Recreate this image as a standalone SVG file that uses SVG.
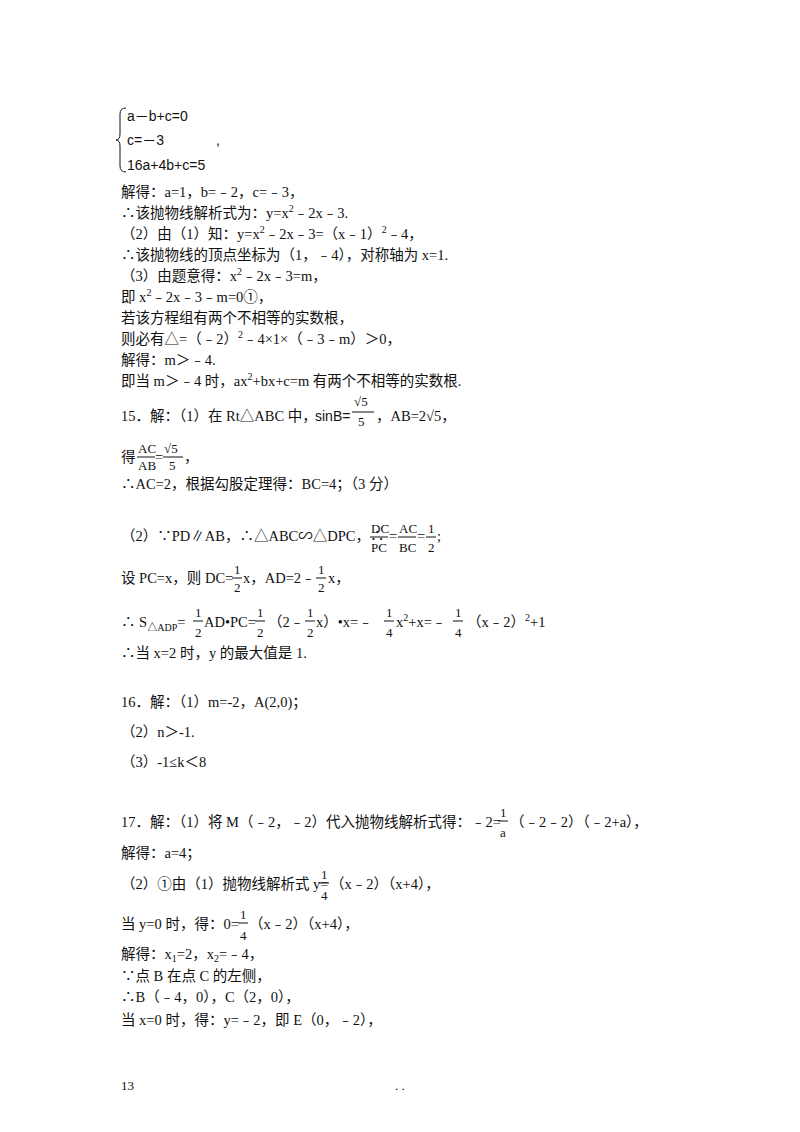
<svg xmlns="http://www.w3.org/2000/svg" width="800" height="1132" viewBox="0 0 800 1132">
<style>
text{font-family:"Liberation Serif","Noto Sans CJK SC",serif;font-size:14.5px;fill:#111}
.s{font-family:"Liberation Sans","Noto Sans CJK SC",sans-serif;font-size:14px}
.f{font-size:13px}
.sup{font-size:10px}
line{stroke:#111;stroke-width:1}
</style>
<rect width="800" height="1132" fill="#fff"/>
<g id="system">
<path d="M126 108 Q120 108 120 114 L120 134 Q120 140 116 140 Q120 140 120 146 L120 166 Q120 172 126 172" fill="none" stroke="#111"/>
<text class="s" x="127" y="121">a－b+c=0</text>
<text class="s" x="127" y="145">c=－3</text>
<text class="s" x="216" y="145">,</text>
<text class="s" x="127" y="170">16a+4b+c=5</text>
</g>
<g id="q14">
<text x="121" y="197">解得：a=1，b=﹣2，c=﹣3，</text>
<text x="121" y="218">∴该抛物线解析式为：y=x<tspan class="sup" dy="-6">2</tspan><tspan dy="6">﹣2x﹣3.</tspan></text>
<text x="121" y="239">（2）由（1）知：y=x<tspan class="sup" dy="-6">2</tspan><tspan dy="6">﹣2x﹣3=（x﹣1）</tspan><tspan class="sup" dy="-6">2</tspan><tspan dy="6">﹣4，</tspan></text>
<text x="121" y="260">∴该抛物线的顶点坐标为（1，﹣4），对称轴为 x=1.</text>
<text x="121" y="281">（3）由题意得：x<tspan class="sup" dy="-6">2</tspan><tspan dy="6">﹣2x﹣3=m，</tspan></text>
<text x="121" y="302">即 x<tspan class="sup" dy="-6">2</tspan><tspan dy="6">﹣2x﹣3﹣m=0①，</tspan></text>
<text x="121" y="323">若该方程组有两个不相等的实数根，</text>
<text x="121" y="344">则必有△=（﹣2）<tspan class="sup" dy="-6">2</tspan><tspan dy="6">﹣4×1×（﹣3﹣m）＞0，</tspan></text>
<text x="121" y="365">解得：m＞﹣4.</text>
<text x="121" y="386">即当 m＞﹣4 时，ax<tspan class="sup" dy="-6">2</tspan><tspan dy="6">+bx+c=m 有两个不相等的实数根.</tspan></text>
</g>
<g id="q15">
<text x="121" y="421">15．解：（1）在 Rt△ABC 中，</text>
<text class="s" x="315" y="421">sinB=</text>
<text class="f" x="354" y="406">√5</text><line x1="352" y1="412" x2="374" y2="412"/><text class="f" x="358" y="426">5</text>
<text x="376" y="421">，AB=2√5，</text>
<text x="121" y="462">得</text>
<text class="f" x="138" y="453">AC</text><line x1="137" y1="457" x2="155" y2="457"/><text class="f" x="138" y="470">AB</text>
<text x="155" y="462">=</text>
<text class="f" x="164" y="453">√5</text><line x1="163" y1="457" x2="183" y2="457"/><text class="f" x="169" y="470">5</text>
<text x="184" y="462">，</text>
<text x="121" y="489">∴AC=2，根据勾股定理得：BC=4；（3 分）</text>
<text x="121" y="541">（2）∵PD∥AB，∴△ABC∽△DPC，∴</text>
<text class="f" x="371" y="533">DC</text><line x1="370" y1="537" x2="388" y2="537"/><text class="f" x="371" y="552">PC</text>
<text x="389" y="541">=</text>
<text class="f" x="399" y="533">AC</text><line x1="398" y1="537" x2="416" y2="537"/><text class="f" x="399" y="552">BC</text>
<text x="417" y="541">=</text>
<text class="f" x="428" y="533">1</text><line x1="426" y1="537" x2="436" y2="537"/><text class="f" x="428" y="552">2</text>
<text x="437" y="541">;</text>
<text x="121" y="583">设 PC=x，则 DC=</text>
<text class="f" x="234" y="574">1</text><line x1="232" y1="578" x2="242" y2="578"/><text class="f" x="234" y="592">2</text>
<text x="243" y="583">x，AD=2﹣</text>
<text class="f" x="318" y="574">1</text><line x1="316" y1="578" x2="326" y2="578"/><text class="f" x="318" y="592">2</text>
<text x="328" y="583">x，</text>
<text x="121" y="627">∴ S<tspan class="sup" dy="4">△ADP</tspan><tspan dy="-4">=</tspan></text>
<text class="f" x="195" y="617">1</text><line x1="193" y1="621" x2="203" y2="621"/><text class="f" x="195" y="637">2</text>
<text x="204" y="627">AD•PC=</text>
<text class="f" x="257" y="617">1</text><line x1="255" y1="621" x2="265" y2="621"/><text class="f" x="257" y="637">2</text>
<text x="268" y="627">（2﹣</text>
<text class="f" x="307" y="617">1</text><line x1="305" y1="621" x2="315" y2="621"/><text class="f" x="307" y="637">2</text>
<text x="316" y="627">x）•x=﹣</text>
<text class="f" x="386" y="617">1</text><line x1="384" y1="621" x2="394" y2="621"/><text class="f" x="386" y="637">4</text>
<text x="396" y="627">x<tspan class="sup" dy="-6">2</tspan><tspan dy="6">+x=﹣</tspan></text>
<text class="f" x="455" y="617">1</text><line x1="453" y1="621" x2="463" y2="621"/><text class="f" x="455" y="637">4</text>
<text x="467" y="627">（x﹣2）<tspan class="sup" dy="-6">2</tspan><tspan dy="6">+1</tspan></text>
<text x="121" y="658">∴当 x=2 时，y 的最大值是 1.</text>
</g>
<g id="q16">
<text x="121" y="707">16．解：（1）m=-2，A(2,0)；</text>
<text x="121" y="737">（2）n＞-1.</text>
<text x="121" y="767">（3）-1≤k＜8</text>
</g>
<g id="q17">
<text x="121" y="827">17．解：（1）将 M（﹣2，﹣2）代入抛物线解析式得：﹣2=</text>
<text class="f" x="500" y="817">1</text><line x1="498" y1="821" x2="508" y2="821"/><text class="f" x="500" y="837">a</text>
<text x="510" y="827">（﹣2﹣2）（﹣2+a），</text>
<text x="121" y="858">解得：a=4；</text>
<text x="121" y="889">（2）①由（1）抛物线解析式 y=</text>
<text class="f" x="321" y="879">1</text><line x1="319" y1="883" x2="329" y2="883"/><text class="f" x="321" y="900">4</text>
<text x="330" y="889">（x﹣2）（x+4），</text>
<text x="121" y="929">当 y=0 时，得：0=</text>
<text class="f" x="240" y="919">1</text><line x1="238" y1="923" x2="248" y2="923"/><text class="f" x="240" y="940">4</text>
<text x="249" y="929">（x﹣2）（x+4），</text>
<text x="121" y="959">解得：x<tspan class="sup" dy="3">1</tspan><tspan dy="-3">=2，x</tspan><tspan class="sup" dy="3">2</tspan><tspan dy="-3">=﹣4，</tspan></text>
<text x="121" y="981">∵点 B 在点 C 的左侧，</text>
<text x="121" y="1002">∴B（﹣4，0），C（2，0），</text>
<text x="121" y="1025">当 x=0 时，得：y=﹣2，即 E（0，﹣2），</text>
</g>
<g id="footer">
<text x="121" y="1090" style="font-size:13px">13</text>
<text x="395" y="1090" style="font-size:13px">. .</text>
</g>
</svg>
